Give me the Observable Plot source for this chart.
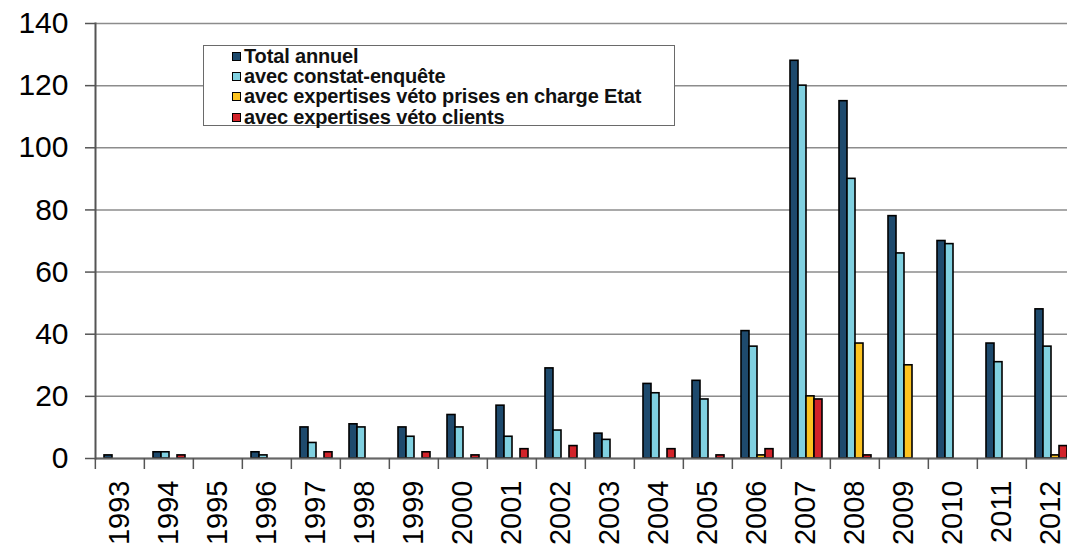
<!DOCTYPE html>
<html><head><meta charset="utf-8">
<script src="https://cdn.jsdelivr.net/npm/d3@7"></script>
<script src="https://cdn.jsdelivr.net/npm/@observablehq/plot@0.6"></script>
<style>
body{margin:0;background:#fff;}
#wrap{position:relative;width:1067px;height:549px;overflow:hidden;font-family:"Liberation Sans",Arial,sans-serif;color:#000;}
#legend{position:absolute;left:203px;top:45px;width:472px;height:81px;border:1px solid #6a6a6a;background:#fff;box-sizing:border-box;padding-left:28px;padding-top:0px;}
.item{display:flex;align-items:center;height:20.4px;font-size:20px;font-weight:bold;color:#111;white-space:nowrap;letter-spacing:-0.15px;}
.sw{width:7px;height:7px;border:1px solid #000;margin-right:3px;flex:none;}
</style></head><body><div id="wrap"><div id="chart"></div><div id="legend"></div></div>
<script>
const years = ["1993","1994","1995","1996","1997","1998","1999","2000","2001","2002","2003","2004","2005","2006","2007","2008","2009","2010","2011","2012"];
const series = ["Total annuel","avec constat-enquête","avec expertises véto prises en charge Etat","avec expertises véto clients"];
const total   = [1,2,0,2,10,11,10,14,17,29,8,24,25,41,128,115,78,70,37,48];
const constat = [0,2,0,1,5,10,7,10,7,9,6,21,19,36,120,90,66,69,31,36];
const etat    = [0,0,0,0,0,0,0,0,0,0,0,0,0,1,20,37,30,0,0,1];
const clients = [0,1,0,0,2,0,2,1,3,4,0,3,1,3,19,1,0,0,0,4];
const colors = ["#1e4a6d","#80d0e0","#fcc320","#d2232a"];
const yTicks = [0,20,40,60,80,100,120,140];

const values = [total, constat, etat, clients];
const data = years.flatMap((year, i) => series.map((s, j) => ({year, series: s, value: values[j][i]})));

const width = 1067, height = 549, marginLeft = 92, marginRight = -11;
const step = (width - marginLeft - marginRight) / years.length;

const chart = Plot.plot({
  width, height, marginLeft, marginRight, marginTop: 23, marginBottom: 91,
  style: {fontFamily: '"Liberation Sans", Arial, sans-serif', background: "white", color: "#000"},
  fx: {domain: years, padding: 0},
  x: {domain: series, paddingInner: 0, paddingOuter: 0.74, axis: null},
  y: {domain: [0, 140]},
  color: {domain: series, range: colors},
  marks: [
    Plot.gridY(yTicks, {stroke: "#8c8c8c", strokeOpacity: 1, strokeWidth: 1.5}),
    Plot.barY(data, {fx: "year", x: "series", y: "value", fill: "series", stroke: "#000", strokeWidth: 1.6}),
    Plot.ruleY([0], {stroke: "#666", strokeWidth: 2}),
    Plot.frame({anchor: "left", facetAnchor: "left", stroke: "#555", strokeWidth: 2}),
    Plot.axisY(yTicks, {anchor: "left", tickSize: 10, tickPadding: 17, fontSize: 30, stroke: "#555", strokeWidth: 1.5, label: null}),
    Plot.axisFx({anchor: "bottom", tickSize: 11, tickFormat: () => "", dx: -step / 2, stroke: "#555", strokeWidth: 1.5, label: null}),
    Plot.axisFx({anchor: "bottom", tickSize: 0, tickPadding: 22, tickRotate: -90, fontSize: 29, label: null})
  ]
});
document.getElementById("chart").appendChild(chart);

const legend = document.getElementById("legend");
series.forEach((s, i) => {
  const row = document.createElement("div");
  row.className = "item";
  const sw = document.createElement("span");
  sw.className = "sw";
  sw.style.background = colors[i];
  row.appendChild(sw);
  row.appendChild(document.createTextNode(s));
  legend.appendChild(row);
});
</script></body></html>
